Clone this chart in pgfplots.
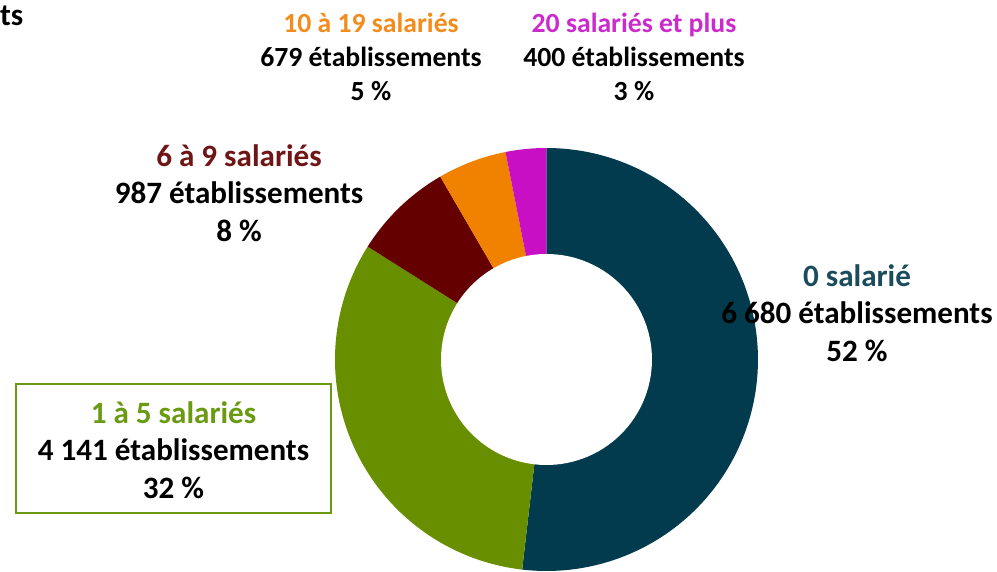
\documentclass[border=0pt]{standalone}
\usepackage{pgfplots}
\pgfplotsset{compat=1.18}
\usepackage{pgfplotstable}
\usepackage{fontspec}
\setmainfont{Carlito}
\definecolor{cTeal}{HTML}{023B4E}
\definecolor{cGreen}{HTML}{678F00}
\definecolor{cRed}{HTML}{640000}
\definecolor{cOrange}{HTML}{F08200}
\definecolor{cMag}{HTML}{C90FC4}
\definecolor{tTeal}{HTML}{1B4C5E}
\definecolor{tGreen}{HTML}{6A9A12}
\definecolor{tRed}{HTML}{701515}
\definecolor{tOrange}{HTML}{F28C1C}
\definecolor{tMag}{HTML}{CC2ACC}
\pgfplotstableread{
cat value
0 6680
1 4141
2 987
3 679
4 400
}\datatable
\tikzset{lbl/.style={font=\bfseries\fontsize{31.2}{37.5}\selectfont, align=center, inner sep=0pt, text=black},
  lbls/.style={font=\bfseries\fontsize{27.8}{33.8}\selectfont, align=center, inner sep=0pt, text=black}}
\begin{document}%
\begin{tikzpicture}
\pgfplotstablegetelem{0}{value}\of\datatable \let\vA\pgfplotsretval
\pgfplotstablegetelem{1}{value}\of\datatable \let\vB\pgfplotsretval
\pgfplotstablegetelem{2}{value}\of\datatable \let\vC\pgfplotsretval
\pgfplotstablegetelem{3}{value}\of\datatable \let\vD\pgfplotsretval
\pgfplotstablegetelem{4}{value}\of\datatable \let\vE\pgfplotsretval
\pgfmathsetmacro\tot{\vA+\vB+\vC+\vD+\vE}
\pgfmathsetmacro\aA{90-360*(\vA/\tot)}
\pgfmathsetmacro\aB{\aA-360*(\vB/\tot)}
\pgfmathsetmacro\aC{\aB-360*(\vC/\tot)}
\pgfmathsetmacro\aD{\aC-360*(\vD/\tot)}
\pgfmathsetmacro\aE{\aD-360*(\vE/\tot)}
\def\cx{546.5}\def\cy{212.5}\def\R{211.5}\def\r{105.5}
\begin{axis}[at={(0,0)}, anchor=south west, scale only axis,
  width=997bp, height=572bp, xmin=0, xmax=997, ymin=0, ymax=572,
  hide axis, clip=false]
\addplot[fill=cTeal, draw=none, domain=\aA:90, samples=120, variable=\t]
  ({\cx+\R*cos(t)},{\cy+\R*sin(t)}) -- (axis cs:\cx,\cy) -- cycle;
\addplot[fill=cGreen, draw=none, domain=\aB:\aA, samples=90, variable=\t]
  ({\cx+\R*cos(t)},{\cy+\R*sin(t)}) -- (axis cs:\cx,\cy) -- cycle;
\addplot[fill=cRed, draw=none, domain=\aC:\aB, samples=40, variable=\t]
  ({\cx+\R*cos(t)},{\cy+\R*sin(t)}) -- (axis cs:\cx,\cy) -- cycle;
\addplot[fill=cOrange, draw=none, domain=\aD:\aC, samples=30, variable=\t]
  ({\cx+\R*cos(t)},{\cy+\R*sin(t)}) -- (axis cs:\cx,\cy) -- cycle;
\addplot[fill=cMag, draw=none, domain=\aE:\aD, samples=20, variable=\t]
  ({\cx+\R*cos(t)},{\cy+\R*sin(t)}) -- (axis cs:\cx,\cy) -- cycle;
\addplot[fill=white, draw=none, domain=0:360, samples=120, variable=\t]
  ({\cx+\r*cos(t)},{\cy+\r*sin(t)}) -- cycle;
\node[lbl, anchor=base west] at (axis cs:0,546) {ts};
\node[lbl] at (axis cs:857,259) {\textcolor{tTeal}{0 salarié}\\6 680 établissements\\52 \%};
\node[lbls] at (axis cs:371,515) {\textcolor{tOrange}{10 à 19 salariés}\\679 établissements\\5 \%};
\node[lbls] at (axis cs:634,515) {\textcolor{tMag}{20 salariés et plus}\\400 établissements\\3 \%};
\node[lbl] at (axis cs:239,379) {\textcolor{tRed}{6 à 9 salariés}\\987 établissements\\8 \%};
\draw[tGreen, line width=1.5pt] (axis cs:16,59) rectangle (axis cs:331,188);
\node[lbl] at (axis cs:173.5,122) {\textcolor{tGreen}{1 à 5 salariés}\\4 141 établissements\\32 \%};
\end{axis}
\pgfresetboundingbox
\useasboundingbox (0,0) rectangle (997bp,572bp);
\end{tikzpicture}%
\end{document}
